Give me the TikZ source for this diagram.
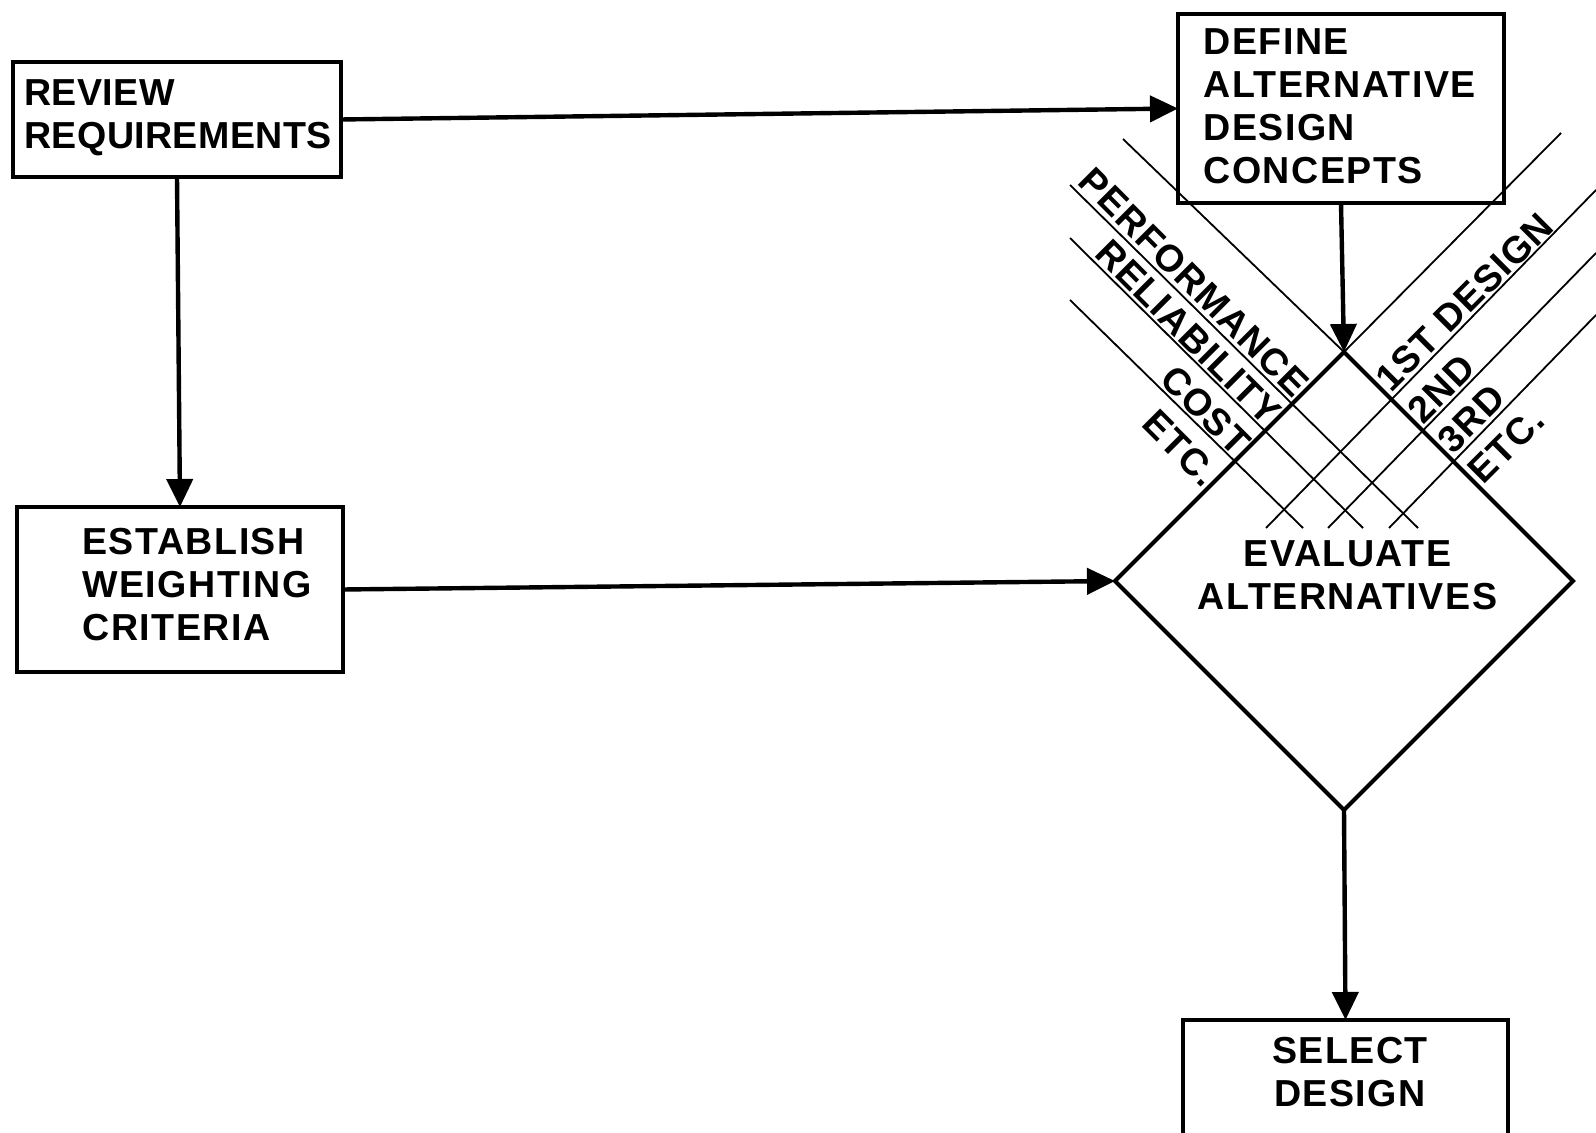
\documentclass[tikz,border=0pt]{standalone}
\usepackage{fontspec}
\setmainfont{Liberation Sans}
\usetikzlibrary{arrows.meta,shapes.geometric}
\tikzset{
  boxnode/.style={draw, line width=1.75pt, rectangle, inner sep=0pt, outer sep=0pt},
  txt/.style={font=\fontsize{18.8pt}{21.5pt}\selectfont\bfseries\addfontfeature{LetterSpace=4}, inner sep=0pt},
  txtn/.style={font=\fontsize{18.8pt}{21.5pt}\selectfont\bfseries\addfontfeature{LetterSpace=1}, inner sep=0pt},
  lbl/.style={font=\fontsize{18.8pt}{21.5pt}\selectfont\bfseries\addfontfeature{LetterSpace=3}, inner sep=1.5pt},
  arr/.style={line width=2.2pt, -{Triangle[length=14pt,width=13pt]}},
  thin/.style={line width=0.9pt},
}
\begin{document}
\begin{tikzpicture}[x=0.5pt,y=-0.5pt]
\useasboundingbox (0,0) rectangle (1596,1133);
% boxes
\node[boxnode, minimum width=164pt, minimum height=57.5pt] (rev) at (177,119.5) {};
\node[boxnode, minimum width=163pt, minimum height=82.5pt] (est) at (180,589.5) {};
\node[boxnode, minimum width=163pt, minimum height=94.5pt] (def) at (1341,108.5) {};
\node[boxnode, minimum width=162.5pt, minimum height=65pt] (sel) at (1345.5,1085) {};
\node[draw, line width=2pt, diamond, aspect=1, minimum width=229pt, minimum height=229pt, inner sep=0pt, outer sep=0pt] (dia) at (1344,581) {};
% box texts
\node[txtn, align=left, anchor=west] (revt) at (24,118) {REVIEW\\REQUIREMENTS};
\node[txt, align=left, anchor=west] (estt) at (82,585) {ESTABLISH\\WEIGHTING\\CRITERIA};
\node[txt, align=left, anchor=west] (deft) at (1203,106.5) {DEFINE\\ALTERNATIVE\\DESIGN\\CONCEPTS};
\node[txt, align=center] (diat) at (1347.5,575) {EVALUATE\\ALTERNATIVES};
\node[txt, align=center] (selt) at (1350,1072) {SELECT\\DESIGN};
% thin grid lines
\coordinate (l1) at (1123,139);
\coordinate (r1) at (1561,133);
\coordinate (l2a) at (1070,185); \coordinate (l2b) at (1418,528);
\coordinate (l3a) at (1070,238); \coordinate (l3b) at (1363,528);
\coordinate (l4a) at (1070,300); \coordinate (l4b) at (1303,528);
\coordinate (r2a) at (1596,190); \coordinate (r2b) at (1266,528);
\coordinate (r3a) at (1596,253); \coordinate (r3b) at (1328,528);
\coordinate (r4a) at (1596,315); \coordinate (r4b) at (1389,528);
\draw[thin] (l1) -- (dia.north) -- (r1);
\draw[thin] (l2a) -- (l2b);
\draw[thin] (l3a) -- (l3b);
\draw[thin] (l4a) -- (l4b);
\draw[thin] (r2a) -- (r2b);
\draw[thin] (r3a) -- (r3b);
\draw[thin] (r4a) -- (r4b);
% labels
\node[lbl, rotate=-45, anchor=south east] (perf) at (1292.5,404.5) {PERFORMANCE};
\node[lbl, rotate=-45, anchor=south east] (reli) at (1265,432) {RELIABILITY};
\node[lbl, rotate=-45, anchor=south east] (cost) at (1234.5,462.5) {COST};
\node[lbl, rotate=-45, anchor=south east] (etcl) at (1203,494) {ETC.};
\node[lbl, rotate=45, anchor=south west] (first) at (1391.5,398.5) {1ST DESIGN};
\node[lbl, rotate=45, anchor=south west] (second) at (1423,430) {2ND};
\node[lbl, rotate=45, anchor=south west] (third) at (1453.5,460.5) {3RD};
\node[lbl, rotate=45, anchor=south west] (etcr) at (1484,491) {ETC.};
% arrows
\draw[arr] (rev.east) -- (def.west);
\draw[arr] (rev.south) -- (est.north);
\draw[arr] (est.east) -- (dia.west);
\draw[arr] (def.south) -- (dia.north);
\draw[arr] (dia.south) -- (sel.north);
\end{tikzpicture}
\end{document}
